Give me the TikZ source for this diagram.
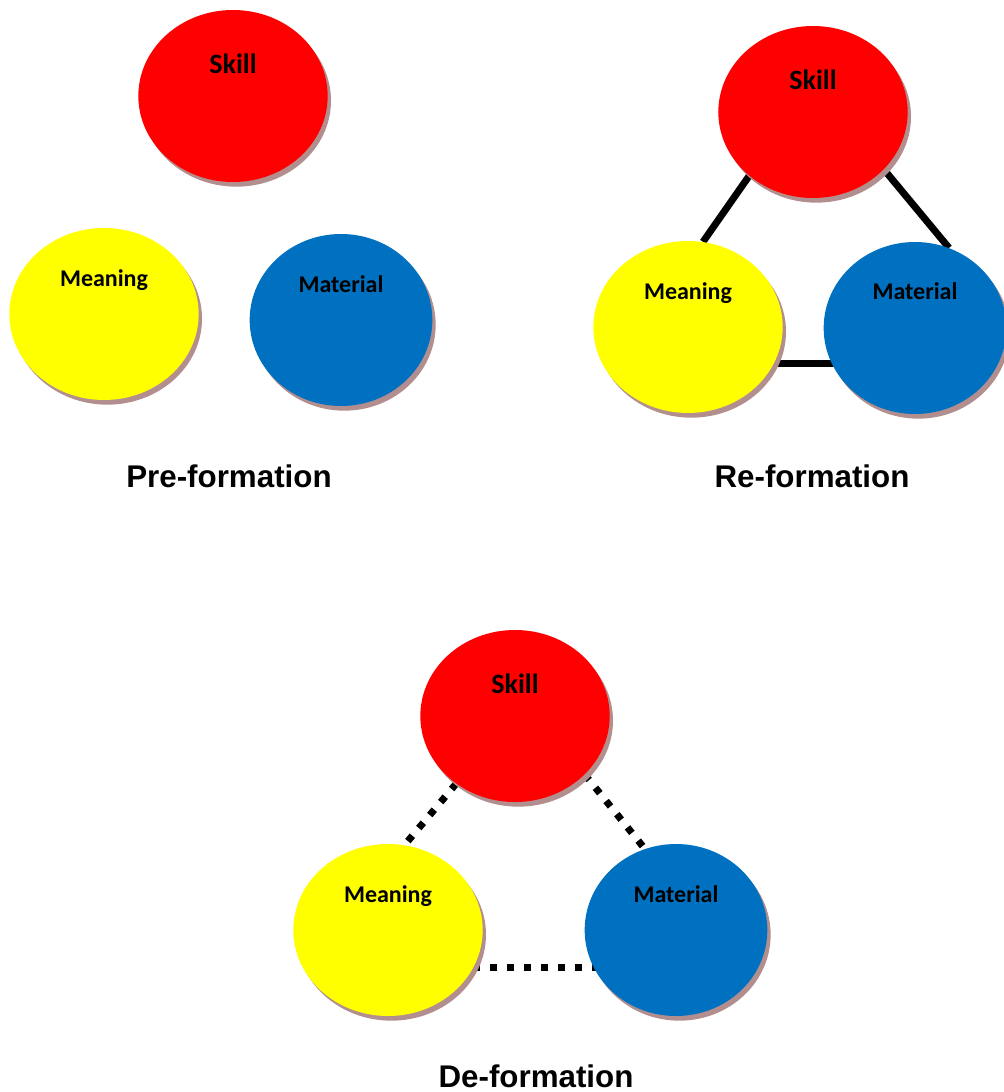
\documentclass[tikz,border=0pt]{standalone}
\usepackage{fontspec}
\setmainfont{Liberation Sans}
\newfontfamily\bubfont{Carlito}
\usepackage{tikz}
\usetikzlibrary{shapes.geometric,shadows,backgrounds}

\definecolor{skillred}{RGB}{255,0,0}
\definecolor{meanyellow}{RGB}{255,255,0}
\definecolor{matblue}{RGB}{0,112,192}
\definecolor{shadowc}{RGB}{178,142,142}

\tikzset{
  bub/.style={ellipse,inner sep=0pt,minimum height=129pt,
    drop shadow={shadow xshift=2.5pt,shadow yshift=-3.5pt,fill=shadowc,opacity=1}},
  wide/.style={bub,minimum width=142pt},
  narrow/.style={bub,minimum width=137pt},
  lbl/.style={anchor=base,font=\bubfont\bfseries\fontsize{18}{20}\selectfont},
  biglbl/.style={lbl,font=\bubfont\bfseries\fontsize{21}{24}\selectfont},
  title/.style={anchor=base,font=\bfseries\fontsize{23.5}{28}\selectfont},
  link/.style={line width=5.25pt},
  dotlink/.style={line width=5.25pt,dash pattern=on 5.25pt off 7.5pt}
}

\begin{document}
\begin{tikzpicture}[x=0.75pt,y=-0.75pt]
\useasboundingbox (0,0) rectangle (1003,1092);

% pre-formation
\node[wide,fill=skillred] (skA) at (233,96) {};
\node[wide,fill=meanyellow] (meA) at (104,314) {};
\node[narrow,fill=matblue] (maA) at (341,320) {};
\node[biglbl] (skAt) at (233,73) {Skill};
\node[lbl] (meAt) at (104,286) {Meaning};
\node[lbl] (maAt) at (341,292) {Material};
\node[title] (tA) at (229,487) {Pre-formation};

% re-formation
\node[wide,fill=skillred] (skB) at (813,112) {};
\node[wide,fill=meanyellow] (meB) at (688,327) {};
\node[narrow,fill=matblue] (maB) at (915,328) {};
\node[biglbl] (skBt) at (813,89) {Skill};
\node[lbl] (meBt) at (688,299) {Meaning};
\node[lbl] (maBt) at (915,299) {Material};
\node[title] (tB) at (812,487) {Re-formation};

\begin{pgfonlayer}{background}
\draw[link] (skB.225) -- (meB.80);
\draw[link] (skB.321) -- (maB.67);
\draw[link] (meB.-23) -- (meB.-23 -| maB.center);
\end{pgfonlayer}

% de-formation
\node[wide,fill=skillred] (skC) at (515,716) {};
\node[wide,fill=meanyellow] (meC) at (388,930) {};
\node[narrow,fill=matblue] (maC) at (676,930) {};
\node[biglbl] (skCt) at (515,693) {Skill};
\node[lbl] (meCt) at (388,902) {Meaning};
\node[lbl] (maCt) at (676,902) {Material};
\node[title] (tC) at (536,1087) {De-formation};

\begin{pgfonlayer}{background}
\draw[dotlink] (skC.229) -- (meC.79);
\draw[dotlink] (skC.320) -- (maC.111);
\draw[dotlink] (meC.-24) -- (meC.-24 -| maC.center);
\end{pgfonlayer}
\end{tikzpicture}
\end{document}
